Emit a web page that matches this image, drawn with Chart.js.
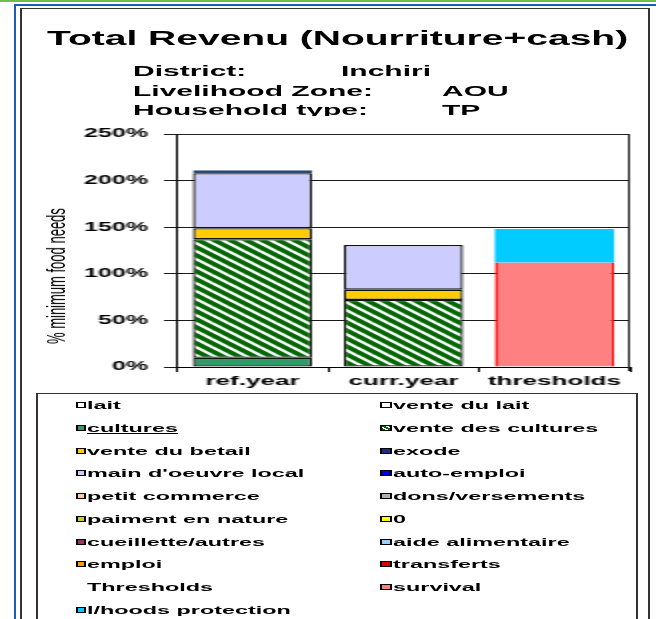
<!DOCTYPE html>
<html>
<head>
<meta charset="utf-8">
<script src="https://cdn.jsdelivr.net/npm/chart.js@4.4.0/dist/chart.umd.min.js"></script>
<style>
  html, body { margin: 0; padding: 0; background: #fff; overflow: hidden; }
  /* the whole sheet is drawn at half width and stretched, like the source picture */
  #sheet { position: absolute; left: 0; top: 0; width: 328px; height: 619px;
           transform: scaleX(2); transform-origin: 0 0;
           font-family: "Liberation Sans", Arial, sans-serif; color: #000; }
  .abs { position: absolute; white-space: nowrap; }
  #green { left: 0; top: 0; width: 328px; height: 2px; background: #6cc04a; }
  #blue { left: 7px; top: 4px; width: 400px; height: 700px; border-left: 1.5px solid #1a5fb4; border-top: 2px solid #1a5fb4; }
  #frame { left: 10px; top: 8px; width: 315px; height: 700px; border: 1px solid #333; box-sizing: border-box; }
  #title { left: 23.5px; top: 26px; font-size: 19.5px; font-weight: bold; line-height: 24px; }
  .info { font-size: 15px; font-weight: bold; line-height: 18px; }
  #chart { position: absolute; left: 11px; top: 116px; background: #fff; }
  #ytitle { left: 27.5px; top: 276px; font-size: 13px; transform: translate(-50%, -50%) rotate(-90deg); }
  #legend { left: 18px; top: 393px; width: 301px; height: 400px; border: 1px solid #333; box-sizing: border-box; background: #fff; }
  .item { font-size: 11.7px; font-weight: bold; line-height: 14px; }
  .sw { position: absolute; width: 5.5px; height: 6px; border: 1px solid #000; box-sizing: border-box; }
</style>
</head>
<body>
<div id="sheet">
  <div class="abs" id="green"></div>
  <div class="abs" id="blue"></div>
  <div class="abs" id="frame"></div>
  <div class="abs" id="title">Total Revenu (Nourriture+cash)</div>
  <div class="abs info" style="left:66.5px;top:62px">District:</div>
  <div class="abs info" style="left:170.5px;top:62px">Inchiri</div>
  <div class="abs info" style="left:66.5px;top:82px">Livelihood Zone:</div>
  <div class="abs info" style="left:221px;top:82px">AOU</div>
  <div class="abs info" style="left:66.5px;top:101px">Household type:</div>
  <div class="abs info" style="left:221px;top:101px">TP</div>
  <canvas id="chart" width="313" height="276"></canvas>
  <div class="abs" id="ytitle">% minimum food needs</div>
  <div class="abs" id="legend"></div>
  <div id="items"></div>
</div>
<script>
const categories = ['ref.year', 'curr.year', 'thresholds'];
const yTicks = [0, 50, 100, 150, 200, 250];

// % of minimum food needs: ref.year, curr.year, thresholds
const cultures         = [10, 0, 0];
const venteCultures    = [127, 72, 0];
const venteBetail      = [12, 11, 0];
const mainOeuvre       = [59, 48, 0];
const aideAlimentaire  = [3, 0, 0];
const survival         = [0, 0, 112];
const lhoodsProtection = [0, 0, 36];
const empty            = [0, 0, 0];

const seriesLabels = ['lait', 'vente du lait', 'cultures', 'vente des cultures', 'vente du betail', 'exode',
  "main d'oeuvre local", 'auto-emploi', 'petit commerce', 'dons/versements', 'paiment en nature', '0',
  'cueillette/autres', 'aide alimentaire', 'emploi', 'transferts', 'Thresholds', 'survival', 'l/hoods protection'];
const seriesValues = [empty, empty, cultures, venteCultures, venteBetail, empty,
  mainOeuvre, empty, empty, empty, empty, empty,
  empty, aideAlimentaire, empty, empty, empty, survival, lhoodsProtection];
const seriesColors = ['#ffffff', '#ffffff', '#339966', 'hatch', '#ffcc00', '#1c2a8c',
  '#ccccff', '#0000dd', '#ffcc99', '#b0b0b0', '#cccc22', '#ffff00',
  '#993366', '#99ccff', '#ff9900', '#dd0000', null, '#ff8080', '#00ccff'];

// dark green with white diagonal stripes (vente des cultures)
function makeHatch(ctx) {
  const t = document.createElement('canvas');
  t.width = 8; t.height = 8;
  const c = t.getContext('2d');
  c.fillStyle = '#006600';
  c.fillRect(0, 0, 8, 8);
  c.strokeStyle = '#ffffff';
  c.lineWidth = 2.2;
  [-8, 0, 8].forEach(k => {
    c.beginPath(); c.moveTo(k - 1, -1); c.lineTo(k + 9, 9); c.stroke();
  });
  return ctx.createPattern(t, 'repeat');
}

const canvas = document.getElementById('chart');
const ctx = canvas.getContext('2d');
const hatch = makeHatch(ctx);

const datasets = seriesLabels.map((label, i) => {
  const col = seriesColors[i] === 'hatch' ? hatch : (seriesColors[i] || '#ffffff');
  const ds = {
    label,
    data: seriesValues[i].map(v => v || null),
    backgroundColor: col,
    borderColor: '#111',
    borderWidth: 1.3,
    borderSkipped: false
  };
  if (label === 'survival') { ds.borderColor = '#ff0000'; ds.borderWidth = {left: 1.5, right: 1.5, top: 0, bottom: 0}; }
  if (label === 'l/hoods protection') ds.borderWidth = 0;
  if (label === 'aide alimentaire') ds.borderColor = '#2d4a6e';
  return ds;
});

const plotFrame = {
  id: 'plotFrame',
  beforeDatasetsDraw(chart) {
    const {ctx, chartArea: a} = chart;
    ctx.save();
    ctx.strokeStyle = '#222';
    ctx.lineWidth = 1;
    ctx.beginPath();
    ctx.moveTo(a.left, a.top + 0.5); ctx.lineTo(a.right, a.top + 0.5);
    ctx.moveTo(a.right - 0.5, a.top); ctx.lineTo(a.right - 0.5, a.bottom + 4);
    ctx.stroke();
    ctx.restore();
  }
};

Chart.defaults.font.family = '"Liberation Sans", Arial, sans-serif';
Chart.defaults.color = '#000';

new Chart(ctx, {
  type: 'bar',
  data: { labels: categories, datasets },
  options: {
    responsive: false,
    animation: false,
    layout: { padding: { left: 0, right: 9, top: 18, bottom: 0 } },
    plugins: { legend: { display: false }, tooltip: { enabled: false } },
    datasets: { bar: { categoryPercentage: 1, barPercentage: 0.79 } },
    scales: {
      x: {
        stacked: true,
        afterFit: s => { s.height = 25; },
        grid: { offset: true, drawOnChartArea: false, tickLength: 5, color: '#000' },
        border: { color: '#000', width: 1 },
        ticks: { font: { size: 13, weight: 'bold' }, padding: 2 }
      },
      y: {
        stacked: true,
        min: 0, max: 250,
        afterFit: s => { s.width = 77.5; },
        afterBuildTicks: s => { s.ticks = yTicks.map(v => ({ value: v })); },
        grid: { color: '#1a1a1a', lineWidth: 1, tickLength: 6.5 },
        border: { color: '#000', width: 1 },
        ticks: { font: { size: 12.5, weight: 'bold' }, padding: 8, callback: v => v + '%' }
      }
    }
  },
  plugins: [plotFrame]
});

// legend in two columns, built from the series lists
const items = document.getElementById('items');
seriesLabels.forEach((label, i) => {
  const row = Math.floor(i / 2), col = i % 2;
  const y = 405 + row * 22.75;
  const sx = col ? 190 : 37.5, tx = col ? 196.5 : 43.5;
  if (seriesColors[i]) {
    const sw = document.createElement('span');
    sw.className = 'sw';
    sw.style.left = sx + 'px';
    sw.style.top = (y - 3) + 'px';
    sw.style.background = seriesColors[i] === 'hatch'
      ? 'repeating-linear-gradient(45deg, #006600 0 1.5px, #ffffff 1.5px 2.5px)'
      : seriesColors[i];
    items.appendChild(sw);
  }
  const t = document.createElement('div');
  t.className = 'abs item';
  t.style.left = tx + 'px';
  t.style.top = (y - 7) + 'px';
  t.textContent = label;
  if (label === 'cultures') t.style.textDecoration = 'underline';
  items.appendChild(t);
});
</script>
</body>
</html>
